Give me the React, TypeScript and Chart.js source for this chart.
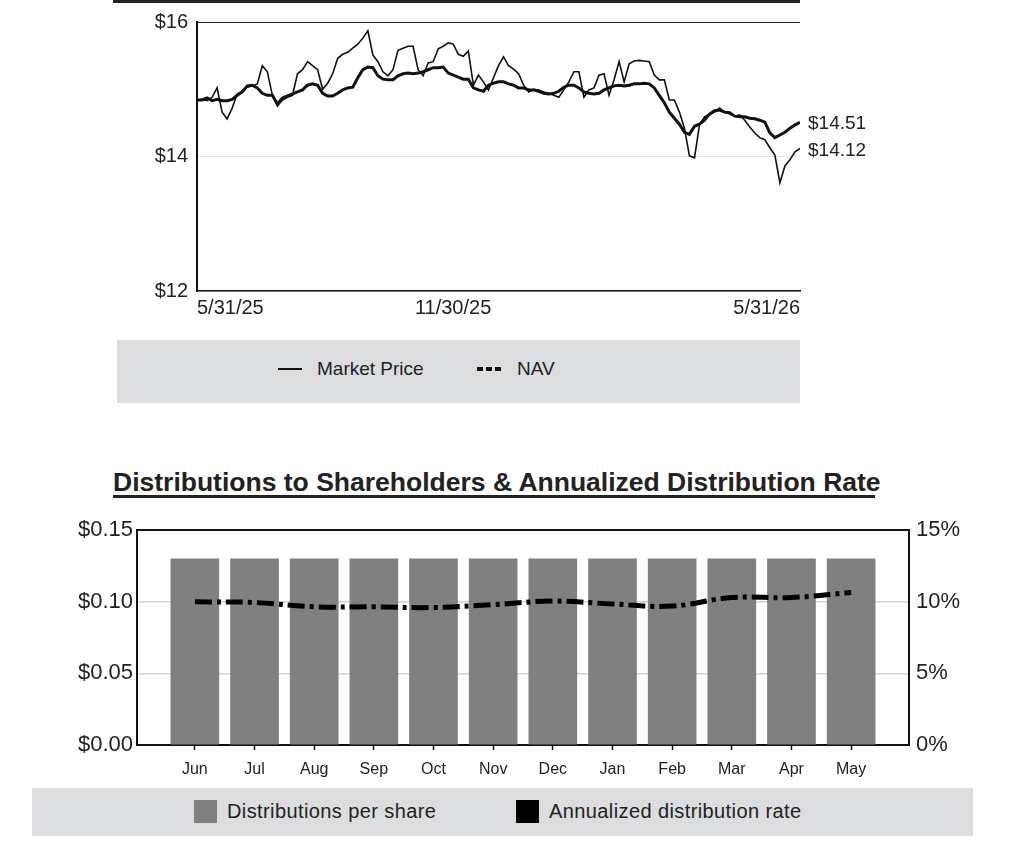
import { useEffect, useRef } from 'react';
import { Chart, registerables } from 'chart.js';

Chart.register(...registerables);

const FONT = '"Liberation Sans", Arial, Helvetica, sans-serif';

// ---- performance chart (one year, sampled ~every 3 days) ----
const marketPrice = [
  14.84, 14.85, 14.83, 14.88, 15.02, 14.66, 14.56, 14.72, 14.93, 14.97,
  15.03, 15.05, 15.08, 15.35, 15.26, 14.91, 14.75, 14.84, 14.88, 14.91,
  15.23, 15.29, 15.41, 15.35, 15.29, 15.0, 15.09, 15.23, 15.46, 15.52,
  15.55, 15.61, 15.67, 15.76, 15.87, 15.51, 15.41, 15.26, 15.2, 15.29,
  15.58, 15.61, 15.64, 15.64, 15.29, 15.2, 15.39, 15.41, 15.6, 15.64,
  15.69, 15.67, 15.52, 15.49, 15.57, 15.06, 15.21, 15.11, 14.99, 15.17,
  15.35, 15.48, 15.35, 15.3, 15.23, 15.06, 14.96, 15.0, 14.99, 14.96,
  14.94, 14.91, 14.88, 14.99, 15.11, 15.26, 15.26, 14.88, 14.99, 15.02,
  15.21, 15.23, 14.91, 15.14, 15.41, 15.11, 15.38, 15.42, 15.43, 15.42,
  15.41, 15.21, 15.14, 15.14, 14.84, 14.84, 14.66, 14.42, 14.01, 13.98,
  14.47, 14.59, 14.63, 14.66, 14.72, 14.66, 14.63, 14.6, 14.62, 14.54,
  14.44, 14.35, 14.28, 14.25, 14.13, 14.02, 13.61, 13.86, 13.95, 14.07,
  14.12,
];
const nav = [
  14.84, 14.84, 14.87, 14.83, 14.85, 14.83, 14.83, 14.85, 14.91, 14.96,
  15.05, 15.06, 15.02, 14.94, 14.91, 14.91, 14.78, 14.87, 14.9, 14.93,
  14.96, 14.99, 15.06, 15.08, 15.06, 14.94, 14.9, 14.9, 14.94, 14.99,
  15.02, 15.03, 15.17, 15.29, 15.33, 15.32, 15.2, 15.15, 15.14, 15.14,
  15.2, 15.23, 15.24, 15.23, 15.24, 15.26, 15.29, 15.32, 15.32, 15.33,
  15.24, 15.21, 15.18, 15.15, 15.15, 15.02, 14.99, 14.97, 15.06, 15.09,
  15.11, 15.11, 15.08, 15.06, 15.02, 15.02, 14.99, 14.99, 14.97, 14.94,
  14.93, 14.94, 14.97, 15.03, 15.06, 15.06, 15.02, 14.96, 14.94, 14.93,
  14.94, 14.99, 15.02, 15.05, 15.06, 15.05, 15.06, 15.08, 15.08, 15.09,
  15.08, 15.02, 14.91, 14.8, 14.66, 14.57, 14.48, 14.36, 14.33, 14.45,
  14.48, 14.54, 14.63, 14.68, 14.69, 14.66, 14.65, 14.6, 14.59, 14.59,
  14.57, 14.56, 14.54, 14.51, 14.35, 14.28, 14.32, 14.36, 14.42, 14.47,
  14.51,
];
const periodDays = 365;
const dateTickDays = [0, 155, 365];
const dateTickLabels = ['5/31/25', '11/30/25', '5/31/26'];
const priceTicks = [12, 14, 16];

// ---- distributions chart ----
const months = ['Jun', 'Jul', 'Aug', 'Sep', 'Oct', 'Nov', 'Dec', 'Jan', 'Feb', 'Mar', 'Apr', 'May'];
const distributions = [0.13, 0.13, 0.13, 0.13, 0.13, 0.13, 0.13, 0.13, 0.13, 0.13, 0.13, 0.13];
const distributionRate = [10.0, 9.95, 9.65, 9.65, 9.6, 9.8, 10.05, 9.85, 9.7, 10.3, 10.3, 10.65];
const dollarTicks = [0, 0.05, 0.1, 0.15];
const percentTicks = [0, 5, 10, 15];

// writes the last value of each line just right of its end
const endLabels = {
  id: 'endLabels',
  afterDatasetsDraw(chart: any) {
    const ctx = chart.ctx;
    ctx.save();
    ctx.font = `19px ${FONT}`;
    ctx.fillStyle = '#222';
    ctx.textBaseline = 'middle';
    chart.data.datasets.forEach((ds: any, i: number) => {
      const pts = chart.getDatasetMeta(i).data;
      const last = pts[pts.length - 1];
      const v = ds.data[ds.data.length - 1].y;
      ctx.fillText('$' + v.toFixed(2), last.x + 8, last.y + 2);
    });
    ctx.restore();
  },
};

function PriceChart() {
  const ref = useRef<HTMLCanvasElement>(null);

  useEffect(() => {
    if (!ref.current) return;
    const step = periodDays / (marketPrice.length - 1);
    const toPoints = (values: number[]) => values.map((y, i) => ({ x: i * step, y }));
    const chart = new Chart(ref.current, {
      type: 'line',
      data: {
        datasets: [
          { label: 'Market Price', data: toPoints(marketPrice), borderColor: '#111', borderWidth: 1.6, pointRadius: 0 },
          { label: 'NAV', data: toPoints(nav), borderColor: '#111', borderWidth: 3, pointRadius: 0 },
        ],
      },
      options: {
        animation: false,
        responsive: true,
        maintainAspectRatio: false,
        events: [],
        layout: { padding: { left: 0, right: 222, top: 22, bottom: 0 } },
        plugins: { legend: { display: false }, tooltip: { enabled: false } },
        scales: {
          x: {
            type: 'linear',
            min: 0,
            max: periodDays,
            afterBuildTicks: (axis: any) => {
              axis.ticks = dateTickDays.map((value) => ({ value }));
            },
            afterFit: (axis: any) => {
              axis.height = 39;
            },
            grid: { drawOnChartArea: false, drawTicks: false },
            border: { color: '#111', width: 1.5 },
            ticks: {
              align: 'inner',
              autoSkip: false,
              maxRotation: 0,
              padding: 5,
              color: '#222',
              font: { family: FONT, size: 20 },
              callback: (_v: any, i: number) => dateTickLabels[i],
            },
          },
          y: {
            min: 12,
            max: 16,
            afterBuildTicks: (axis: any) => {
              axis.ticks = priceTicks.map((value) => ({ value }));
            },
            afterFit: (axis: any) => {
              axis.width = 197;
            },
            grid: {
              drawTicks: false,
              color: (c: any) => (c.index === priceTicks.length - 1 ? '#222' : '#e4e4e4'),
              lineWidth: 1,
            },
            border: { color: '#111', width: 2 },
            ticks: {
              padding: 9,
              color: '#222',
              font: { family: FONT, size: 20 },
              callback: (v: any) => '$' + v,
            },
          },
        },
      } as any,
      plugins: [endLabels],
    });
    return () => chart.destroy();
  }, []);

  return (
    <div style={{ position: 'absolute', left: 0, top: 0, width: 1022, height: 330 }}>
      <canvas ref={ref} />
    </div>
  );
}

function DistributionChart() {
  const ref = useRef<HTMLCanvasElement>(null);

  useEffect(() => {
    if (!ref.current) return;
    const chart = new Chart(ref.current, {
      type: 'bar',
      data: {
        datasets: [
          {
            type: 'line',
            label: 'Annualized distribution rate',
            data: months.map((_m, i) => ({ x: i, y: distributionRate[i] })),
            yAxisID: 'y1',
            borderColor: '#000',
            borderWidth: 5,
            borderDash: [17, 5, 4, 5],
            tension: 0.4,
            pointRadius: 0,
            fill: false,
            order: 0,
          },
          {
            type: 'bar',
            label: 'Distributions per share',
            data: months.map((_m, i) => ({ x: i, y: distributions[i] })),
            yAxisID: 'y',
            backgroundColor: '#808080',
            barThickness: 48,
            order: 1,
          },
        ],
      },
      options: {
        animation: false,
        responsive: true,
        maintainAspectRatio: false,
        events: [],
        layout: { padding: { left: 0, right: 0, top: 18, bottom: 0 } },
        plugins: { legend: { display: false }, tooltip: { enabled: false } },
        scales: {
          x: {
            type: 'linear',
            min: -0.97,
            max: 11.97,
            offset: false,
            afterBuildTicks: (axis: any) => {
              axis.ticks = months.map((_m, i) => ({ value: i }));
            },
            afterFit: (axis: any) => {
              axis.height = 45;
            },
            grid: {
              offset: false,
              drawOnChartArea: false,
              drawTicks: true,
              tickLength: 5,
              tickWidth: 1.5,
              tickColor: '#111',
            },
            border: { color: '#111', width: 2 },
            ticks: {
              autoSkip: false,
              maxRotation: 0,
              padding: 10,
              color: '#222',
              font: { family: FONT, size: 16 },
              callback: (_v: any, i: number) => months[i],
            },
          },
          y: {
            position: 'left',
            min: 0,
            max: 0.15,
            afterBuildTicks: (axis: any) => {
              axis.ticks = dollarTicks.map((value) => ({ value }));
            },
            afterFit: (axis: any) => {
              axis.width = 137;
            },
            grid: {
              drawTicks: false,
              color: (c: any) => (c.index === dollarTicks.length - 1 ? '#111' : '#d2d2d2'),
              lineWidth: (c: any) => (c.index === dollarTicks.length - 1 ? 2 : 1.5),
            },
            border: { color: '#111', width: 2 },
            ticks: {
              padding: 4,
              color: '#222',
              font: { family: FONT, size: 22 },
              callback: (v: any) => '$' + Number(v).toFixed(2),
            },
          },
          y1: {
            position: 'right',
            min: 0,
            max: 15,
            afterBuildTicks: (axis: any) => {
              axis.ticks = percentTicks.map((value) => ({ value }));
            },
            afterFit: (axis: any) => {
              axis.width = 113;
            },
            grid: { drawOnChartArea: false, drawTicks: false },
            border: { color: '#111', width: 2 },
            ticks: {
              padding: 7,
              color: '#222',
              font: { family: FONT, size: 22 },
              callback: (v: any) => v + '%',
            },
          },
        },
      } as any,
    });
    return () => chart.destroy();
  }, []);

  return (
    <div style={{ position: 'absolute', left: 0, top: 510, width: 1022, height: 280 }}>
      <canvas ref={ref} />
    </div>
  );
}

const legendItem = (left: number, lift = 0): React.CSSProperties => ({
  position: 'absolute',
  left,
  top: 0,
  height: '100%',
  boxSizing: 'border-box',
  paddingBottom: lift,
  display: 'flex',
  alignItems: 'center',
});

export default function App() {
  return (
    <div
      style={{
        position: 'absolute',
        left: 0,
        top: 0,
        width: 1022,
        height: 850,
        background: '#fff',
        fontFamily: FONT,
        color: '#222',
      }}
    >
      <div style={{ position: 'absolute', left: 113, top: 0, width: 687, height: 3, background: '#222' }} />
      <PriceChart />

      <div style={{ position: 'absolute', left: 117, top: 340, width: 683, height: 63, background: '#dcdddf', fontSize: 19 }}>
        <div style={legendItem(161, 6)}>
          <div style={{ width: 24, height: 2, background: '#111', marginRight: 15 }} />
          <span>Market Price</span>
        </div>
        <div style={legendItem(360, 6)}>
          <svg width={24} height={4} style={{ marginRight: 16 }}>
            <line x1={0} y1={2} x2={24} y2={2} stroke="#111" strokeWidth={4} strokeDasharray="6 3" />
          </svg>
          <span>NAV</span>
        </div>
      </div>

      <div
        style={{
          position: 'absolute',
          left: 113,
          top: 469,
          width: 762,
          lineHeight: '26px',
          fontSize: 26.5,
          fontWeight: 'bold',
          textAlign: 'center',
          whiteSpace: 'nowrap',
          borderBottom: '3px solid #222',
        }}
      >
        Distributions to Shareholders &amp; Annualized Distribution Rate
      </div>

      <DistributionChart />

      <div style={{ position: 'absolute', left: 32, top: 788, width: 941, height: 48, background: '#dcdddf', fontSize: 20, letterSpacing: 0.4 }}>
        <div style={legendItem(162, 2)}>
          <div style={{ width: 23, height: 23, background: '#808080', marginRight: 10 }} />
          <span>Distributions per share</span>
        </div>
        <div style={legendItem(484, 2)}>
          <div style={{ width: 23, height: 23, background: '#000', marginRight: 10 }} />
          <span>Annualized distribution rate</span>
        </div>
      </div>
    </div>
  );
}
